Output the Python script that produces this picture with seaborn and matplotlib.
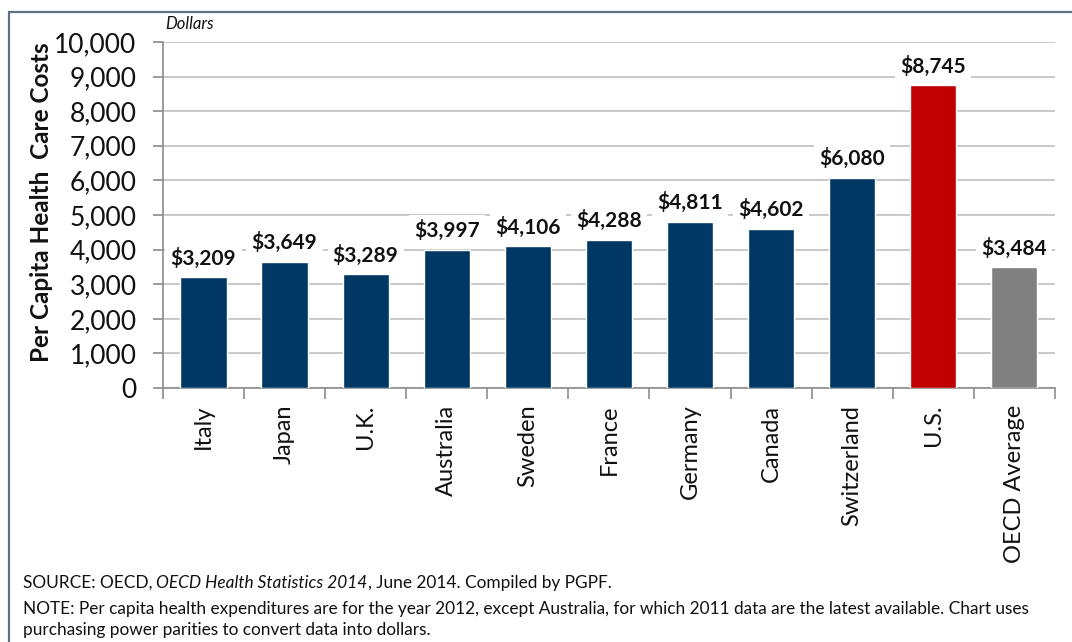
import matplotlib
matplotlib.use("Agg")
import matplotlib.pyplot as plt
import seaborn as sns
import pandas as pd
from matplotlib.patches import Rectangle

countries = ["Italy", "Japan", "U.K.", "Australia", "Sweden", "France",
             "Germany", "Canada", "Switzerland", "U.S.", "OECD Average"]
costs = [3209, 3649, 3289, 3997, 4106, 4288, 4811, 4602, 6080, 8745, 3484]
bar_colors = ["#003865"] * 9 + ["#C00000", "#808080"]
yticks = list(range(0, 10001, 1000))

sns.set_theme(style="white")
plt.rcParams["font.family"] = ["Lato", "DejaVu Sans"]

df = pd.DataFrame({"country": countries, "cost": costs})

fig = plt.figure(figsize=(10.72, 6.42), dpi=100)
ax = fig.add_axes([0.152, 0.3956, 0.832, 0.539])

sns.barplot(data=df, x="country", y="cost", hue="country", palette=bar_colors,
            legend=False, width=0.57, saturation=1, ax=ax, zorder=3)

ax.set_ylim(0, 10000)
ax.set_xlim(-0.5, len(countries) - 0.5)
ax.set_yticks(yticks)
ax.set_yticklabels([f"{v:,}" for v in yticks], fontsize=19, color="#111111")
ax.yaxis.grid(True, color="#BFBFBF", linewidth=1.2, zorder=0)
ax.set_axisbelow(True)
for s in ["top", "right"]:
    ax.spines[s].set_visible(False)
ax.spines["left"].set_color("#8C8C8C")
ax.spines["bottom"].set_color("#8C8C8C")
ax.spines["left"].set_linewidth(1.2)
ax.spines["bottom"].set_linewidth(1.2)
ax.tick_params(axis="y", which="both", left=True, length=7, color="#8C8C8C",
               width=1.2, direction="out", pad=12)

# category tick labels
ax.set_xticks(range(len(countries)))
ax.set_xticklabels(countries, rotation=90, fontsize=17, color="#111111")
ax.tick_params(axis="x", which="major", length=0, pad=12)
# tick marks between categories
ax.set_xticks([i - 0.5 for i in range(len(countries) + 1)], minor=True)
ax.tick_params(axis="x", which="minor", bottom=True, length=8, color="#8C8C8C",
               width=1.2, direction="out")
ax.set_xlabel("")
ax.set_ylabel("Per Capita Health  Care Costs", fontsize=17.5, fontweight="bold",
              color="#111111")
ax.yaxis.set_label_coords(-0.1235, 0.537)

for i, v in enumerate(costs):
    ax.annotate(f"${v:,}", (i, v), xytext=(0, 6), textcoords="offset points",
                ha="center", va="bottom", fontsize=15, fontweight="bold",
                color="#111111", zorder=4,
                bbox=dict(boxstyle="square,pad=0.25", fc="white", ec="none"))

fig.text(0.154, 0.962, "Dollars", fontsize=12, style="italic", color="#111111",
         ha="left", va="center")

# outer frame
fig.patches.append(Rectangle((9 / 1072, -0.1), 1.2, 1 - 12 / 642 + 0.1,
                             transform=fig.transFigure, fill=False,
                             edgecolor="#5F7285", linewidth=1.6))

fs = 12.45
y1 = 0.092
t1 = fig.text(0.021, y1, "SOURCE: OECD, ", fontsize=fs, color="#111111", ha="left", va="center")
fig.canvas.draw()
r = fig.canvas.get_renderer()
bb = t1.get_window_extent(r)
t2 = fig.text(bb.x1 / fig.bbox.width, y1, "OECD Health Statistics 2014", fontsize=fs,
              style="italic", color="#111111", ha="left", va="center")
bb2 = t2.get_window_extent(r)
fig.text(bb2.x1 / fig.bbox.width, y1, ", June 2014. Compiled by PGPF.", fontsize=fs,
         color="#111111", ha="left", va="center")
fig.text(0.021, 0.051,
         "NOTE: Per capita health expenditures are for the year 2012, except Australia, for which 2011 data are the latest available. Chart uses",
         fontsize=fs, color="#111111", ha="left", va="center")
fig.text(0.021, 0.019, "purchasing power parities to convert data into dollars.",
         fontsize=fs, color="#111111", ha="left", va="center")

fig.savefig("out.png", dpi=100, facecolor="white")
